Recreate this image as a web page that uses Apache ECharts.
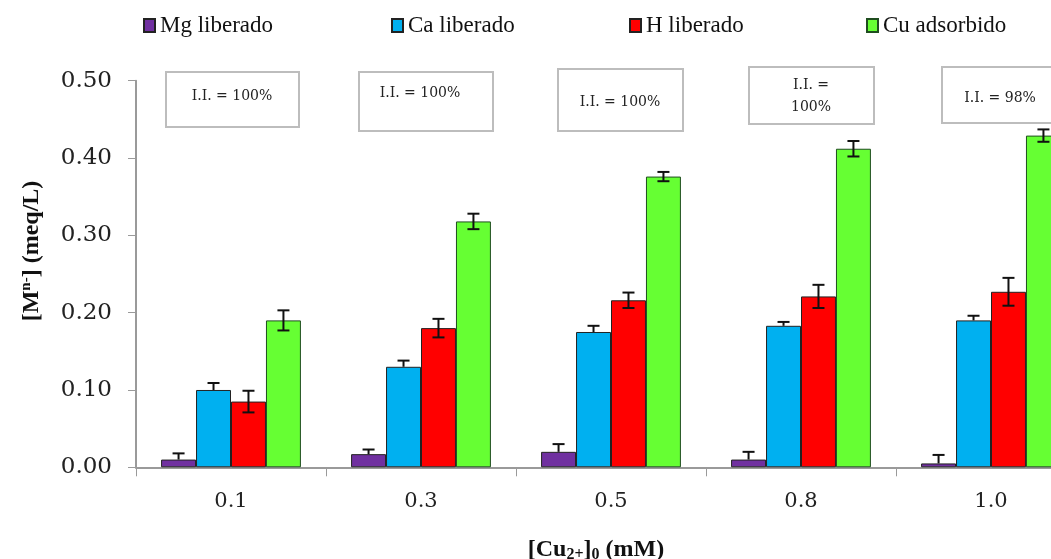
<!DOCTYPE html>
<html><head><meta charset="utf-8">
<script src="https://cdn.jsdelivr.net/npm/echarts@6/dist/echarts.min.js"></script>
<style>html,body{margin:0;padding:0;background:#fff;overflow:hidden}#c{width:1051px;height:559px}</style>
</head><body><div id="c"></div>
<script>
const categories = ['0.1', '0.3', '0.5', '0.8', '1.0'];
const seriesNames = ['Mg liberado', 'Ca liberado', 'H liberado', 'Cu adsorbido'];
const mgValues = [0.010, 0.017, 0.020, 0.010, 0.005];
const caValues = [0.100, 0.130, 0.175, 0.183, 0.190];
const hValues  = [0.085, 0.180, 0.216, 0.221, 0.227];
const cuValues = [0.190, 0.318, 0.376, 0.412, 0.429];
const mgErr = [0.008, 0.006, 0.010, 0.010, 0.011];
const caErr = [0.009, 0.008, 0.008, 0.005, 0.006];
const hErr  = [0.014, 0.012, 0.010, 0.015, 0.018];
const cuErr = [0.013, 0.010, 0.006, 0.010, 0.008];
const yTicks = [0, 0.1, 0.2, 0.3, 0.4, 0.5];
const annotations = [
  {text: 'I.I. = 100%'}, {text: 'I.I. = 100%'}, {text: 'I.I. = 100%'},
  {text: 'I.I. =\n100%'}, {text: 'I.I. = 98%'}
];

const colors = ['#7030A0', '#00B0F0', '#FF0000', '#66FF33'];
const borders = ['#222', '#222', '#222', '#1f4d1f'];
const values = [mgValues, caValues, hValues, cuValues];
const errs = [mgErr, caErr, hErr, cuErr];
const plusOnly = [true, true, false, false];
const barFrac = 0.184;

const chart = echarts.init(document.getElementById('c'));
const series = [];
values.forEach((vals, k) => {
  series.push({
    name: seriesNames[k], type: 'bar', data: vals, barWidth: (barFrac * 100) + '%', barGap: '0%',
    itemStyle: {color: colors[k], borderColor: borders[k], borderWidth: 1}
  });
});
values.forEach((vals, k) => {
  series.push({
    type: 'custom', z: 10, silent: true,
    encode: {x: 0, y: 1},
    data: vals.map((v, i) => [i, v, errs[k][i]]),
    renderItem: function (params, api) {
      const i = api.value(0), v = api.value(1), e = api.value(2);
      const band = api.size([1, 0])[0];
      const dx = (k - 1.5) * band * barFrac;
      const top = api.coord([i, v + e]);
      const bot = api.coord([i, plusOnly[k] ? v : v - e]);
      const x = top[0] + dx;
      const cap = 6;
      const style = {stroke: '#111', lineWidth: 2};
      const children = [
        {type: 'line', shape: {x1: x, y1: top[1], x2: x, y2: bot[1]}, style},
        {type: 'line', shape: {x1: x - cap, y1: top[1], x2: x + cap, y2: top[1]}, style}
      ];
      if (!plusOnly[k]) children.push({type: 'line', shape: {x1: x - cap, y1: bot[1], x2: x + cap, y2: bot[1]}, style});
      return {type: 'group', children};
    }
  });
});

const boxPos = [
  {x: 166, y: 72, w: 133, h: 55, tx: 232, ty: 96},
  {x: 359, y: 72, w: 134, h: 59, tx: 420, ty: 93},
  {x: 558, y: 69, w: 125, h: 62, tx: 620, ty: 102},
  {x: 749, y: 67, w: 125, h: 57, tx: 811, ty: 96},
  {x: 942, y: 67, w: 130, h: 56, tx: 1000, ty: 98}
];
const graphic = [];
annotations.forEach((a, i) => {
  const p = boxPos[i];
  graphic.push({type: 'rect', shape: {x: p.x, y: p.y, width: p.w, height: p.h},
    style: {fill: '#fff', stroke: '#bdbdbd', lineWidth: 2}, z: 5});
  graphic.push({type: 'text', x: p.tx, y: p.ty, z: 6,
    style: {text: a.text, fill: '#222', font: '14px "DejaVu Serif"', align: 'center', verticalAlign: 'middle', lineHeight: 22}});
});

const legendLeft = [138, 386, 624, 861];
const legends = seriesNames.map((n, i) => ({
  data: [n], left: legendLeft[i], top: 9, icon: 'rect', itemWidth: 11, itemHeight: 13, itemGap: 5,
  textStyle: {fontFamily: 'Liberation Serif', fontSize: 23, color: '#111'}
}));

chart.setOption({
  animation: false,
  backgroundColor: '#fff',
  grid: {left: 136, right: -35, top: 80.7, bottom: 91.7, containLabel: false, outerBoundsMode: 'none'},
  legend: legends,
  graphic,
  xAxis: {
    type: 'category', data: categories,
    axisLine: {lineStyle: {color: '#9a9a9a', width: 2}},
    axisTick: {show: true, length: 9, lineStyle: {color: '#9a9a9a', width: 1}},
    axisLabel: {fontFamily: 'DejaVu Serif', fontSize: 21, color: '#222', margin: 24},
    name: '[Cu{sub|2+}]{sub|0} (mM)', nameLocation: 'middle', nameGap: 68,
    nameTextStyle: {fontFamily: 'Liberation Serif', fontWeight: 'bold', fontSize: 24, color: '#111', padding: [0, 30, 0, 0],
      rich: {sub: {fontFamily: 'Liberation Serif', fontWeight: 'bold', fontSize: 16, verticalAlign: 'bottom', padding: [12, 0, 0, 0]}}}
  },
  yAxis: {
    type: 'value', min: 0, max: 0.5, interval: 0.1,
    axisLine: {show: true, lineStyle: {color: '#9a9a9a', width: 2}},
    axisTick: {show: true, length: 8, lineStyle: {color: '#9a9a9a'}},
    splitLine: {show: false},
    axisLabel: {fontFamily: 'DejaVu Serif', fontSize: 23, color: '#222', margin: 24,
      formatter: v => yTicks.some(t => Math.abs(t - v) < 1e-9) ? v.toFixed(2) : ''},
    name: '[M{sup|n-}] (meq/L)', nameLocation: 'middle', nameGap: 92,
    nameTextStyle: {fontFamily: 'Liberation Serif', fontWeight: 'bold', fontSize: 24, color: '#111', padding: [0, 0, 0, 46],
      rich: {sup: {fontFamily: 'Liberation Serif', fontWeight: 'bold', fontSize: 15, verticalAlign: 'top', padding: [0, 0, 10, 0]}}}
  },
  series
});
</script>
</body></html>
